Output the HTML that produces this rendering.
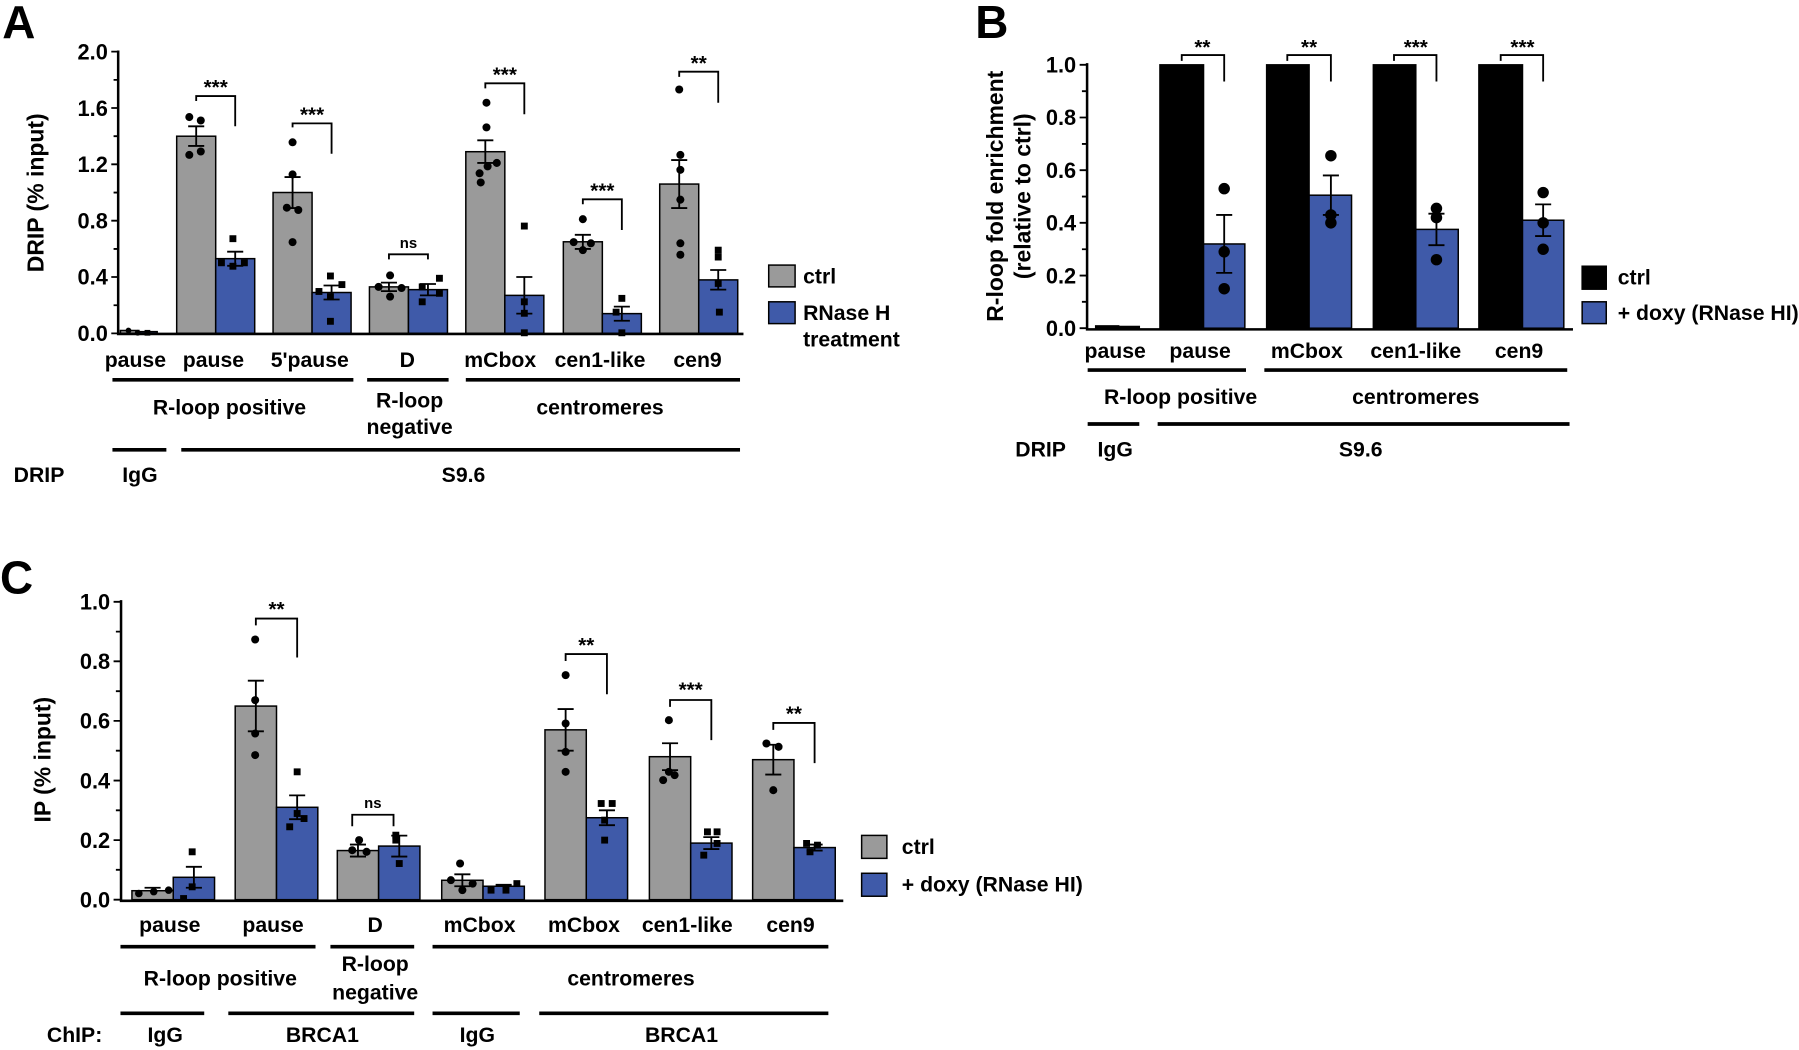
<!DOCTYPE html>
<html><head><meta charset="utf-8"><style>
html,body{margin:0;padding:0;background:#fff;}
svg{display:block;}
text{font-family:"Liberation Sans",Arial,sans-serif;font-weight:bold;fill:#000;}
.t{font-size:19px;text-anchor:end;}
.c{font-size:18.5px;text-anchor:middle;}
.s{font-size:18px;text-anchor:middle;}
.g{fill:#9a9a9a;stroke:#000;stroke-width:1.3;}
.b{fill:#3f5aa9;stroke:#000;stroke-width:1.3;}
.k{fill:#000;stroke:#000;stroke-width:1.3;}
.ln{stroke:#000;stroke-width:1.6;fill:none;}
.ax{stroke:#000;stroke-width:2.2;fill:none;}
.hl{stroke:#000;stroke-width:3.2;}
.yt{font-size:20px;text-anchor:middle;}
</style></head><body>
<svg width="1799" height="1050" viewBox="0 0 1568 915" preserveAspectRatio="none">
<!-- ================= PANEL A ================= -->
<text x="2" y="33" style="font-size:40px">A</text>
<text transform="translate(38,168) rotate(-90)" class="yt">DRIP (% input)</text>
<g class="ln">
<path d="M97 290.5H103M97 241.4H103M97 192.3H103M97 143.2H103M97 94.1H103M97 45H103M99 266H103M99 216.9H103M99 167.8H103M99 118.7H103M99 69.6H103"/>
</g>
<text class="t" x="94" y="297">0.0</text><text class="t" x="94" y="248">0.4</text><text class="t" x="94" y="199">0.8</text><text class="t" x="94" y="150">1.2</text><text class="t" x="94" y="101">1.6</text><text class="t" x="94" y="52">2.0</text>
<rect class="g" x="105" y="288" width="16" height="2.5"/><rect class="b" x="121" y="289" width="16" height="1.5"/>
<rect class="g" x="154" y="118.7" width="34" height="171.8"/><rect class="b" x="188" y="225.4" width="34" height="65.1"/>
<rect class="g" x="238" y="167.75" width="34" height="122.75"/><rect class="b" x="272" y="254.9" width="34" height="35.6"/>
<rect class="g" x="322" y="250" width="34" height="40.5"/><rect class="b" x="356" y="252.4" width="34" height="38.1"/>
<rect class="g" x="406" y="132.2" width="34" height="158.3"/><rect class="b" x="440" y="257.4" width="34" height="33.1"/>
<rect class="g" x="491" y="210.7" width="34" height="79.8"/><rect class="b" x="525" y="273.3" width="34" height="17.2"/>
<rect class="g" x="575" y="160.4" width="34" height="130.1"/><rect class="b" x="609" y="243.9" width="34" height="46.6"/>
<path class="ax" d="M103 44V291H648"/>
<g class="ln">
<path d="M171 110.1V127.2M164 110.1H178M164 127.2H178M205 219.3V231.6M198 219.3H212M198 231.6H212"/>
<path d="M255 154.3V181.3M248 154.3H262M248 181.3H262M289 248.8V261M282 248.8H296M282 261H296"/>
<path d="M339 246.3V253.7M332 246.3H346M332 253.7H346M373 247.5V257.4M366 247.5H380M366 257.4H380"/>
<path d="M423 122.3V142M416 122.3H430M416 142H430M457 241.4V273.3M450 241.4H464M450 273.3H464"/>
<path d="M508 204.6V216.9M501 204.6H515M501 216.9H515M542 267.2V279.5M535 267.2H549M535 279.5H549"/>
<path d="M592 139.5V181.3M585 139.5H599M585 181.3H599M626 235.3V252.4M619 235.3H633M619 252.4H633"/>
<path d="M171 88V83.7H205V110"/><path d="M255 111V107.5H289V134"/><path d="M339 226V221.6H373V226"/>
<path d="M423 77V72.6H457V99.6"/><path d="M508 178V173.7H542V200.4"/><path d="M592 67V62.5H626V89.5"/>
</g>
<text class="s" x="188" y="82">***</text><text class="s" x="272" y="106">***</text><text x="356" y="216" style="font-size:13px;text-anchor:middle">ns</text>
<text class="s" x="440" y="71">***</text><text class="s" x="525" y="172">***</text><text class="s" x="609" y="61">**</text>
<g fill="#000">
<circle cx="112" cy="288" r="2.5"/><circle cx="120" cy="290" r="2.5"/><rect x="126" y="287.5" width="5" height="5"/>
<circle cx="165" cy="102" r="3.5"/><circle cx="175" cy="105" r="3.5"/><circle cx="165" cy="135" r="3.5"/><circle cx="175" cy="132" r="3.5"/>
<rect x="200" y="205" width="6" height="6"/><rect x="190" y="226" width="6" height="6"/><rect x="200" y="229" width="6" height="6"/><rect x="210" y="226" width="6" height="6"/>
<circle cx="255" cy="124" r="3.5"/><circle cx="255" cy="152" r="3.5"/><circle cx="260" cy="183" r="3.5"/><circle cx="255" cy="211" r="3.5"/><circle cx="250" cy="181" r="3.5"/>
<rect x="285" y="237.5" width="6" height="6"/><rect x="295" y="245" width="6" height="6"/><rect x="275" y="251" width="6" height="6"/><rect x="285" y="255.5" width="6" height="6"/><rect x="285" y="277" width="6" height="6"/>
<circle cx="340" cy="240" r="3.5"/><circle cx="330" cy="250" r="3.5"/><circle cx="350" cy="251" r="3.5"/><circle cx="340" cy="258.5" r="3.5"/>
<rect x="380" y="239.5" width="6" height="6"/><rect x="365" y="247" width="6" height="6"/><rect x="380" y="252.6" width="6" height="6"/><rect x="365" y="260" width="6" height="6"/>
<circle cx="424" cy="89.5" r="3.5"/><circle cx="424" cy="111" r="3.5"/><circle cx="433" cy="142" r="3.5"/><circle cx="425" cy="145" r="3.5"/><circle cx="418" cy="151" r="3.5"/><circle cx="419" cy="159" r="3.5"/>
<rect x="454" y="194" width="6" height="6"/><rect x="454" y="260" width="6" height="6"/><rect x="454" y="270" width="6" height="6"/><rect x="454" y="287" width="6" height="6"/>
<circle cx="508" cy="191" r="3.5"/><circle cx="500" cy="211" r="3.5"/><circle cx="515" cy="212" r="3.5"/><circle cx="508" cy="218" r="3.5"/>
<rect x="539" y="257" width="6" height="6"/><rect x="534" y="269" width="6" height="6"/><rect x="539" y="287" width="6" height="6"/>
<circle cx="592" cy="78" r="3.5"/><circle cx="593" cy="135" r="3.5"/><circle cx="593" cy="148" r="3.5"/><circle cx="593" cy="174" r="3.5"/><circle cx="593" cy="212" r="3.5"/><circle cx="593" cy="222" r="3.5"/>
<rect x="623" y="215" width="6" height="6"/><rect x="623" y="221" width="6" height="6"/><rect x="623" y="244" width="6" height="6"/><rect x="624" y="269" width="6" height="6"/>
</g>
<text class="c" x="118" y="320">pause</text><text class="c" x="186" y="320">pause</text><text class="c" x="270" y="320">5'pause</text><text class="c" x="355" y="320">D</text>
<text class="c" x="436" y="320">mCbox</text><text class="c" x="523" y="320">cen1-like</text><text class="c" x="608" y="320">cen9</text>
<path class="hl" d="M98 331H308M320 331H391M406 331H645M98 392H145M158 392H645"/>
<text class="c" x="200" y="361">R-loop positive</text><text class="c" x="357" y="355">R-loop</text><text class="c" x="357" y="378">negative</text><text class="c" x="523" y="361">centromeres</text>
<text class="c" x="34" y="420">DRIP</text><text class="c" x="122" y="420">IgG</text><text class="c" x="404" y="420">S9.6</text>
<rect class="g" x="670" y="231" width="23" height="19"/><rect class="b" x="670" y="263" width="23" height="19"/>
<text x="700" y="247" style="font-size:18.5px">ctrl</text><text x="700" y="279" style="font-size:18.5px">RNase H</text><text x="700" y="302" style="font-size:18.5px">treatment</text>

<!-- ================= PANEL B ================= -->
<text x="850" y="33" style="font-size:40px">B</text>
<text transform="translate(874,171) rotate(-90)" class="yt">R-loop fold enrichment</text>
<text transform="translate(898,171) rotate(-90)" class="yt">(relative to ctrl)</text>
<path class="ln" d="M941 286H947.5M941 240.1H947.5M941 194.2H947.5M941 148.3H947.5M941 102.4H947.5M941 56.5H947.5M943 263H947.5M943 217.2H947.5M943 171.3H947.5M943 125.4H947.5M943 79.5H947.5"/>
<text class="t" x="938" y="293">0.0</text><text class="t" x="938" y="247">0.2</text><text class="t" x="938" y="201">0.4</text><text class="t" x="938" y="155">0.6</text><text class="t" x="938" y="109">0.8</text><text class="t" x="938" y="63">1.0</text>
<rect class="k" x="955" y="284" width="20" height="2"/><rect class="k" x="975" y="284.5" width="18" height="1.5"/>
<rect class="k" x="1011" y="56.5" width="38" height="229.5"/><rect class="b" x="1049" y="212.6" width="36" height="73.4"/>
<rect class="k" x="1104" y="56.5" width="37" height="229.5"/><rect class="b" x="1141" y="170.1" width="37" height="115.9"/>
<rect class="k" x="1197" y="56.5" width="37" height="229.5"/><rect class="b" x="1234" y="199.9" width="37" height="86.1"/>
<rect class="k" x="1289" y="56.5" width="38" height="229.5"/><rect class="b" x="1327" y="191.9" width="36" height="94.1"/>
<path class="ax" d="M947.5 55V287H1371"/>
<g class="ln">
<path d="M1067 187.3V237.8M1060 187.3H1074M1060 237.8H1074"/>
<path d="M1160 152.9V187.3M1153 152.9H1167M1153 187.3H1167"/>
<path d="M1252 186.2V213.7M1245 186.2H1259M1245 213.7H1259"/>
<path d="M1345 178.1V205.7M1338 178.1H1352M1338 205.7H1352"/>
<path d="M1030 53V48H1067V71"/><path d="M1122 53V48H1160V71"/><path d="M1215 53V48H1252V71"/><path d="M1308 53V48H1345V71"/>
</g>
<text class="s" x="1048" y="47">**</text><text class="s" x="1141" y="47">**</text><text class="s" x="1234" y="47">***</text><text class="s" x="1327" y="47">***</text>
<g fill="#000">
<circle cx="1067" cy="164.4" r="5"/><circle cx="1067" cy="219.4" r="5"/><circle cx="1067" cy="251.6" r="5"/>
<circle cx="1160" cy="135.7" r="5"/><circle cx="1160" cy="187.3" r="5"/><circle cx="1160" cy="194.2" r="5"/>
<circle cx="1252" cy="181.6" r="5"/><circle cx="1252" cy="189.6" r="5"/><circle cx="1252" cy="226.3" r="5"/>
<circle cx="1345" cy="167.8" r="5"/><circle cx="1345" cy="194.2" r="5"/><circle cx="1345" cy="217.2" r="5"/>
</g>
<text class="c" x="972" y="312">pause</text><text class="c" x="1046" y="312">pause</text><text class="c" x="1139" y="312">mCbox</text><text class="c" x="1234" y="312">cen1-like</text><text class="c" x="1324" y="312">cen9</text>
<path class="hl" d="M948 322.5H1086M1102 322.5H1366M948 369.5H993M1009 369.5H1368"/>
<text class="c" x="1029" y="352">R-loop positive</text><text class="c" x="1234" y="352">centromeres</text>
<text class="c" x="907" y="398">DRIP</text><text class="c" x="972" y="398">IgG</text><text class="c" x="1186" y="398">S9.6</text>
<rect class="k" x="1379" y="232" width="21" height="20"/><rect class="b" x="1379" y="263" width="21" height="19"/>
<text x="1410" y="248" style="font-size:18.5px">ctrl</text><text x="1410" y="279" style="font-size:18.5px">+ doxy (RNase HI)</text>

<!-- ================= PANEL C ================= -->
<text x="0" y="517" style="font-size:40px">C</text>
<text transform="translate(44,662) rotate(-90)" class="yt">IP (% input)</text>
<path class="ln" d="M99 784H105.5M99 732.1H105.5M99 680.2H105.5M99 628.2H105.5M99 576.3H105.5M99 524.4H105.5M101 758H105.5M101 706.1H105.5M101 654.2H105.5M101 602.3H105.5M101 550.4H105.5"/>
<text class="t" x="96" y="791">0.0</text><text class="t" x="96" y="739">0.2</text><text class="t" x="96" y="687">0.4</text><text class="t" x="96" y="635">0.6</text><text class="t" x="96" y="583">0.8</text><text class="t" x="96" y="531">1.0</text>
<rect class="g" x="115" y="776.2" width="36" height="7.8"/><rect class="b" x="151" y="764.5" width="36" height="19.5"/>
<rect class="g" x="205" y="615.3" width="36" height="168.7"/><rect class="b" x="241" y="703.5" width="36" height="80.5"/>
<rect class="g" x="294" y="741.2" width="36" height="42.8"/><rect class="b" x="330" y="737.3" width="36" height="46.7"/>
<rect class="g" x="385" y="767.1" width="36" height="16.9"/><rect class="b" x="421" y="772.3" width="36" height="11.7"/>
<rect class="g" x="475" y="636" width="36" height="148"/><rect class="b" x="511" y="712.6" width="36" height="71.4"/>
<rect class="g" x="566" y="659.4" width="36" height="124.6"/><rect class="b" x="602" y="734.7" width="36" height="49.3"/>
<rect class="g" x="656" y="662" width="36" height="122"/><rect class="b" x="692" y="738.6" width="36" height="45.4"/>
<path class="ax" d="M105.5 523V785H735"/>
<g class="ln">
<path d="M133 773.6V778.8M126 773.6H140M169 755.4V773.6M162 755.4H176M162 773.6H176"/>
<path d="M223 593.2V637.3M216 593.2H230M216 637.3H230M259 693.1V713.9M252 693.1H266M252 713.9H266"/>
<path d="M312 736V746.4M305 736H319M305 746.4H319M348 728.2V746.4M341 728.2H355M341 746.4H355"/>
<path d="M403 761.9V772.3M396 761.9H410M396 772.3H410M439 771V773.6M432 771H446"/>
<path d="M493 617.9V654.2M486 617.9H500M486 654.2H500M529 706.1V719.1M522 706.1H536M522 719.1H536"/>
<path d="M584 647.7V671.1M577 647.7H591M577 671.1H591M620 729.5V739.9M613 729.5H627M613 739.9H627"/>
<path d="M674 649V675M667 649H681M667 675H681M710 736V741.2M703 736H717M703 741.2H717"/>
<path d="M223 545V539H259V573"/><path d="M493 576V570H529V605"/><path d="M584 616V610H620V645"/><path d="M674 636V630H710V665"/><path d="M307 720V710H343V720"/>
</g>
<text class="s" x="241" y="537">**</text><text class="s" x="511" y="568">**</text><text class="s" x="602" y="607">***</text><text class="s" x="692" y="628">**</text><text x="325" y="704" style="font-size:13px;text-anchor:middle">ns</text>
<g fill="#000">
<circle cx="121" cy="778.6" r="3.3"/><circle cx="134" cy="777" r="3.3"/><circle cx="147" cy="775.7" r="3.3"/>
<rect x="164.5" y="739.3" width="6" height="6"/><rect x="164.5" y="769.8" width="6" height="6"/><rect x="157" y="780" width="6" height="6"/>
<circle cx="222.4" cy="557.3" r="3.5"/><circle cx="222.4" cy="610.1" r="3.5"/><circle cx="222.4" cy="639.2" r="3.5"/><circle cx="222.4" cy="658" r="3.5"/>
<rect x="256" y="669.6" width="6" height="6"/><rect x="256" y="705.9" width="6" height="6"/><rect x="249.5" y="717.5" width="6" height="6"/><rect x="262" y="710.3" width="6" height="6"/>
<circle cx="313" cy="732.1" r="3.5"/><circle cx="307" cy="740.9" r="3.5"/><circle cx="319.5" cy="742.3" r="3.5"/>
<rect x="342" y="724.8" width="6" height="6"/><rect x="342" y="729.1" width="6" height="6"/><rect x="345" y="749.5" width="6" height="6"/>
<circle cx="401" cy="752.5" r="3.5"/><circle cx="393" cy="767" r="3.5"/><circle cx="403" cy="775.7" r="3.5"/><circle cx="412" cy="770" r="3.5"/>
<rect x="425" y="772.7" width="6" height="6"/><rect x="438" y="772.7" width="6" height="6"/><rect x="447.5" y="767" width="6" height="6"/>
<circle cx="493" cy="588.3" r="3.5"/><circle cx="493" cy="630.5" r="3.5"/><circle cx="493" cy="655.2" r="3.5"/><circle cx="493" cy="672.6" r="3.5"/>
<rect x="521" y="697.2" width="6" height="6"/><rect x="530.6" y="697.2" width="6" height="6"/><rect x="524" y="711.7" width="6" height="6"/><rect x="524" y="729.1" width="6" height="6"/>
<circle cx="583" cy="627.6" r="3.5"/><circle cx="583" cy="672.6" r="3.5"/><circle cx="578" cy="679.8" r="3.5"/><circle cx="588" cy="675.5" r="3.5"/>
<rect x="613.6" y="721.9" width="6" height="6"/><rect x="622" y="721.9" width="6" height="6"/><rect x="622" y="732" width="6" height="6"/><rect x="610.4" y="742.2" width="6" height="6"/>
<circle cx="668" cy="647.9" r="3.5"/><circle cx="678.6" cy="650.8" r="3.5"/><circle cx="674" cy="688.6" r="3.5"/>
<rect x="700" y="732" width="6" height="6"/><rect x="709.5" y="733.5" width="6" height="6"/><rect x="703" y="739.3" width="6" height="6"/>
</g>
<text class="c" x="148" y="812">pause</text><text class="c" x="238" y="812">pause</text><text class="c" x="327" y="812">D</text><text class="c" x="418" y="812">mCbox</text>
<text class="c" x="509" y="812">mCbox</text><text class="c" x="599" y="812">cen1-like</text><text class="c" x="689" y="812">cen9</text>
<path class="hl" d="M105 825H275M288 825H361M377 825H722M105 883H178M199 883H361M377 883H453M470 883H722"/>
<text class="c" x="192" y="859">R-loop positive</text><text class="c" x="327" y="846">R-loop</text><text class="c" x="327" y="871">negative</text><text class="c" x="550" y="859">centromeres</text>
<text class="c" x="65" y="908">ChIP:</text><text class="c" x="144" y="908">IgG</text><text class="c" x="281" y="908">BRCA1</text><text class="c" x="416" y="908">IgG</text><text class="c" x="594" y="908">BRCA1</text>
<rect class="g" x="751" y="728" width="22" height="20"/><rect class="b" x="751" y="761" width="22" height="20"/>
<text x="786" y="744" style="font-size:18.5px">ctrl</text><text x="786" y="777" style="font-size:18.5px">+ doxy (RNase HI)</text>
</svg>
</body></html>
